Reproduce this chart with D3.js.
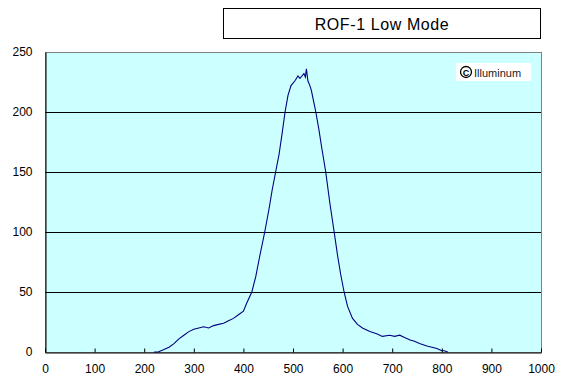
<!DOCTYPE html>
<html>
<head>
<meta charset="utf-8">
<script src="https://cdn.jsdelivr.net/npm/d3@7"></script>
<style>
  body { margin: 0; background: #fff; }
  text { font-family: "Liberation Sans", Arial, sans-serif; }
</style>
</head>
<body>
<div id="chart"></div>
<script>
// wavelength (nm) and intensity
const wavelength = [220, 228, 240, 250, 260, 270, 280, 290, 300, 310, 320, 330, 340, 350, 360, 370, 380, 390, 400, 407, 417,
  425, 433, 443, 452, 458, 465, 472, 478, 484, 490, 496, 504, 510, 514, 518, 522, 525, 527, 530, 534, 537, 542, 546,
  552, 558, 566, 574, 583, 590, 596, 603, 610, 620, 630, 640, 655, 670, 680, 695, 705, 715, 725, 736, 745, 755, 770,
  780, 790, 800, 805, 812];
const intensity = [0, 0, 2, 4, 7, 11, 14, 17, 19, 20, 21, 20, 22, 23, 24, 26, 28, 31, 34, 41, 50,
  63, 80, 100, 120, 135, 150, 165, 182, 200, 214, 222, 226, 230, 228, 230, 232, 229, 236, 226, 222, 218, 208, 200,
  186, 170, 150, 125, 100, 80, 65, 50, 38, 28, 23, 20, 17, 15, 13, 14, 13, 14, 12, 10, 9, 7, 5,
  4, 3, 1, 1, 0];
const xTicks = [0, 100, 200, 300, 400, 500, 600, 700, 800, 900, 1000];
const yTicks = [0, 50, 100, 150, 200, 250];
const title = "ROF-1 Low Mode";
const mark = "Illuminum";

const W = 565, H = 386;
const m = { left: 45, right: 541, top: 52, bottom: 352 };

const svg = d3.select("#chart").append("svg").attr("width", W).attr("height", H);

const x = d3.scaleLinear().domain([0, 1000]).range([m.left, m.right]);
const y = d3.scaleLinear().domain([0, 250]).range([m.bottom, m.top]);

// plot background
svg.append("rect")
  .attr("x", m.left + 0.5).attr("y", m.top + 0.5)
  .attr("width", m.right - m.left).attr("height", m.bottom - m.top)
  .attr("fill", "#ccffff")
  .attr("stroke", "#808080");

// gridlines
svg.append("g")
  .selectAll("line")
  .data(yTicks.filter(d => d > 0 && d < 250))
  .enter()
  .append("line")
  .attr("x1", m.left).attr("x2", m.right)
  .attr("y1", d => Math.round(y(d)) + 0.5).attr("y2", d => Math.round(y(d)) + 0.5)
  .attr("stroke", "#000");

// watermark
svg.append("rect")
  .attr("x", 456).attr("y", 63).attr("width", 75).attr("height", 18)
  .attr("fill", "#fff");
svg.append("circle")
  .attr("cx", 466).attr("cy", 72).attr("r", 5.5)
  .attr("fill", "none").attr("stroke", "#000").attr("stroke-width", 1.3);
svg.append("text")
  .attr("x", 466).attr("y", 75.5).attr("text-anchor", "middle")
  .style("font-size", "9px").style("font-weight", "bold").text("C");
svg.append("text")
  .attr("x", 474).attr("y", 76.5)
  .style("font-size", "11px").attr("fill", "#222").text(mark);

// curve
const pts = wavelength.map((w, i) => [w, intensity[i]]);
svg.append("path")
  .datum(pts)
  .attr("fill", "none")
  .attr("stroke", "#000080")
  .attr("stroke-width", 1.1)
  .attr("d", d3.line().x(d => x(d[0])).y(d => y(d[1])));

// axes
const xAxis = svg.append("g")
  .attr("transform", "translate(0," + (m.bottom + 0.5) + ")")
  .call(d3.axisBottom(x).tickValues(xTicks).tickFormat(d3.format("d"))
    .tickSizeInner(-4).tickSizeOuter(0).tickPadding(12));
xAxis.select(".domain").attr("stroke", "#000");
xAxis.selectAll("text").style("font-size", "12px").attr("fill", "#000");

const yAxis = svg.append("g")
  .attr("transform", "translate(" + (m.left + 0.5) + ",0)")
  .call(d3.axisLeft(y).tickValues(yTicks).tickSize(0).tickPadding(13));
yAxis.select(".domain").attr("stroke", "#000");
yAxis.selectAll("text").style("font-size", "12px").attr("fill", "#000");

// title box
svg.append("rect")
  .attr("x", 223.5).attr("y", 8.5).attr("width", 317).attr("height", 30)
  .attr("fill", "#fff").attr("stroke", "#000");
svg.append("text")
  .attr("x", 382).attr("y", 29.5).attr("text-anchor", "middle")
  .style("font-size", "16px").style("letter-spacing", "0.6px").text(title);
</script>
</body>
</html>
